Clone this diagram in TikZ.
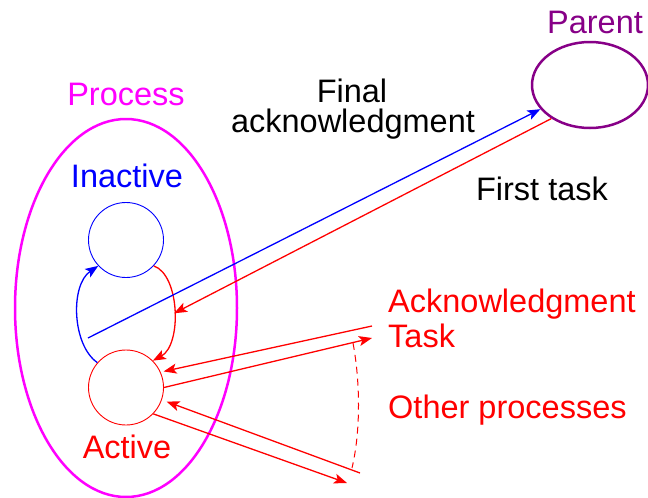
\documentclass[tikz,border=0pt]{standalone}
\usepackage{fontspec}
\setmainfont{Liberation Sans}
\usetikzlibrary{arrows.meta,shapes.geometric}
\definecolor{pred}{RGB}{255,0,0}
\definecolor{pblue}{RGB}{0,0,255}
\definecolor{pmag}{RGB}{255,0,255}
\definecolor{ppur}{RGB}{135,0,135}
\begin{document}
\begin{tikzpicture}[x=1pt,y=-1pt,
  lbl/.style={font=\fontsize{32.5}{36}\selectfont, inner sep=0pt, anchor=base},
  lblw/.style={lbl, anchor=base west},
  arr/.style={-{Stealth[length=13pt,width=10pt,inset=3pt]}},
  ln/.style={line width=1.3pt},
  state/.style={circle, draw, minimum size=75pt, inner sep=0pt, line width=0.9pt},
  big/.style={ellipse, draw, inner sep=0pt, line width=2.5pt}]
\useasboundingbox (0,0) rectangle (648,498);

% containers and states
\node[big, draw=pmag, minimum width=222pt, minimum height=378pt] (process) at (126,308) {};
\node[big, draw=ppur, minimum width=116pt, minimum height=86pt] (parent) at (590,85) {};
\node[state, draw=pblue] (inactive) at (126,240) {};
\node[state, draw=pred] (active) at (126,387.5) {};

% labels
\node[lbl, text=pmag] (tprocess) at (126,105) {Process};
\node[lbl, text=pblue] (tinactive) at (127,187) {Inactive};
\node[lbl, text=pred] (tactive) at (127,458) {Active};
\node[lbl, text=ppur] (tparent) at (595,33) {Parent};
\node[lbl] (tfinal) at (352,102) {Final};
\node[lbl] (tack) at (353,132) {acknowledgment};
\node[lbl] (tfirst) at (542,200) {First task};
\node[lblw, text=pred] (tack2) at (388,312) {Acknowledgment};
\node[lblw, text=pred] (ttask) at (388,347) {Task};
\node[lblw, text=pred] (tother) at (388,418) {Other processes};

% free ends
\coordinate (bstart) at (88,338);
\coordinate (ackin) at (372,326);
\coordinate (taskout) at (372,338);
\coordinate (othin) at (360,473);
\coordinate (othout) at (347,483);
\coordinate (dtop) at (353,343);
\coordinate (dbot) at (352,468);

% state loop
\draw[ln, pblue, arr] (active.139) .. controls (72,345) and (70,285) .. (inactive.223);
\draw[ln, pred, arr] (inactive.317) .. controls (180,275) and (182,345) .. (active.45)
  coordinate[pos=0.52] (redmid);

% parent connections
\draw[ln, pblue, arr] (bstart) -- (parent.206);
\draw[ln, pred, arr] (parent.221) -- (redmid);

% other processes
\draw[ln, pred, arr, shorten >=3pt] (ackin) -- (active.24);
\draw[ln, pred, arr] (active.0) -- (taskout);
\draw[ln, pred, arr, shorten >=5pt] (othin) -- (active.-19);
\draw[ln, pred, arr] (active.-44) -- (othout);
\draw[pred, line width=1pt, dashed, dash pattern=on 7pt off 5pt] (dtop) .. controls (360,380) and (361,430) .. (dbot);
\end{tikzpicture}
\end{document}
